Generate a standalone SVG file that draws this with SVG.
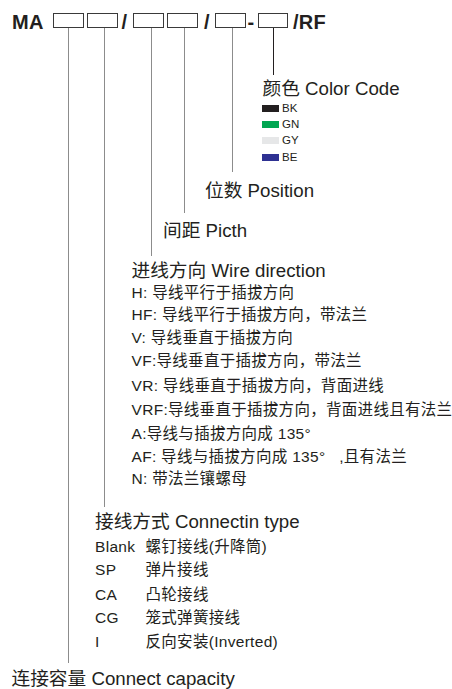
<svg xmlns="http://www.w3.org/2000/svg" width="452" height="689" viewBox="0 0 452 689">
<style>
text{font-family:"Liberation Sans","Noto Sans CJK SC",sans-serif;fill:#231f20}
.t{font-size:20px;font-weight:bold;letter-spacing:0.3px}
.h{font-size:18.7px}
.l{font-size:15.5px;letter-spacing:0.3px}
.s{font-size:11.5px}
.box{fill:#fff;stroke:#3a3a3a;stroke-width:1}
.ln{stroke:#8c8c8c;stroke-width:1;fill:none}
.lk{stroke:#231f20;stroke-width:1;fill:none}
</style>
<rect width="452" height="689" fill="#fff"/>
<g id="title">
<text class="t" x="12" y="28.5">MA</text>
<rect class="box" x="53.5" y="13.5" width="30" height="14"/>
<rect class="box" x="87.5" y="13.5" width="30" height="14"/>
<text class="t" x="121.5" y="28.5">/</text>
<rect class="box" x="133.5" y="13.5" width="30" height="14"/>
<rect class="box" x="167.5" y="13.5" width="30" height="14"/>
<text class="t" x="204" y="28.5">/</text>
<rect class="box" x="215.5" y="13.5" width="30" height="14"/>
<text class="t" x="247.5" y="28.5">-</text>
<rect class="box" x="258.5" y="13.5" width="29" height="14"/>
<text class="t" x="293" y="28.5">/RF</text>
</g>
<g id="connectors">
<line class="ln" x1="68.5" y1="28" x2="68.5" y2="663"/>
<line class="ln" x1="104.5" y1="28" x2="104.5" y2="507"/>
<line class="ln" x1="151.5" y1="28" x2="151.5" y2="256"/>
<line class="ln" x1="184.5" y1="28" x2="184.5" y2="213"/>
<line class="ln" x1="232.5" y1="28" x2="232.5" y2="172"/>
<line class="lk" x1="273.5" y1="28" x2="273.5" y2="75"/>
</g>
<g id="color-code">
<text class="h" x="262.5" y="95">颜色 Color Code</text>
<rect x="262" y="105" width="17" height="7" fill="#231f20"/>
<text class="s" x="282" y="112">BK</text>
<rect x="262" y="121" width="17" height="7" fill="#00a651"/>
<text class="s" x="282" y="128">GN</text>
<rect x="262" y="137" width="17" height="7" fill="#e6e7e8"/>
<text class="s" x="282" y="144">GY</text>
<rect x="262" y="154" width="17" height="7" fill="#2e3192"/>
<text class="s" x="282" y="161">BE</text>
</g>
<g id="position">
<text class="h" x="205" y="197">位数 Position</text>
</g>
<g id="pitch">
<text class="h" x="163" y="237">间距 Picth</text>
</g>
<g id="wire-direction">
<text class="h" x="131.5" y="277">进线方向 Wire direction</text>
<text class="l" x="131.5" y="298">H: 导线平行于插拔方向</text>
<text class="l" x="131.5" y="320">HF: 导线平行于插拔方向，带法兰</text>
<text class="l" x="131.5" y="343">V: 导线垂直于插拔方向</text>
<text class="l" x="131.5" y="366">VF:导线垂直于插拔方向，带法兰</text>
<text class="l" x="131.5" y="391">VR: 导线垂直于插拔方向，背面进线</text>
<text class="l" x="131.5" y="415">VRF:导线垂直于插拔方向，背面进线且有法兰</text>
<text class="l" x="131.5" y="439">A:导线与插拔方向成 135°</text>
<text class="l" x="131.5" y="462">AF: 导线与插拔方向成 135°&#160;&#160;&#160;,且有法兰</text>
<text class="l" x="131.5" y="484">N: 带法兰镶螺母</text>
</g>
<g id="connection-type">
<text class="h" x="95" y="528">接线方式 Connectin type</text>
<text class="l" x="95" y="552">Blank</text><text class="l" x="145.5" y="552">螺钉接线(升降筒)</text>
<text class="l" x="95" y="575">SP</text><text class="l" x="145.5" y="575">弹片接线</text>
<text class="l" x="95" y="600">CA</text><text class="l" x="145.5" y="600">凸轮接线</text>
<text class="l" x="95" y="623">CG</text><text class="l" x="145.5" y="623">笼式弹簧接线</text>
<text class="l" x="95" y="647">I</text><text class="l" x="145.5" y="647">反向安装(Inverted)</text>
</g>
<g id="connect-capacity">
<text class="h" x="11.5" y="685">连接容量 Connect capacity</text>
</g>
</svg>
